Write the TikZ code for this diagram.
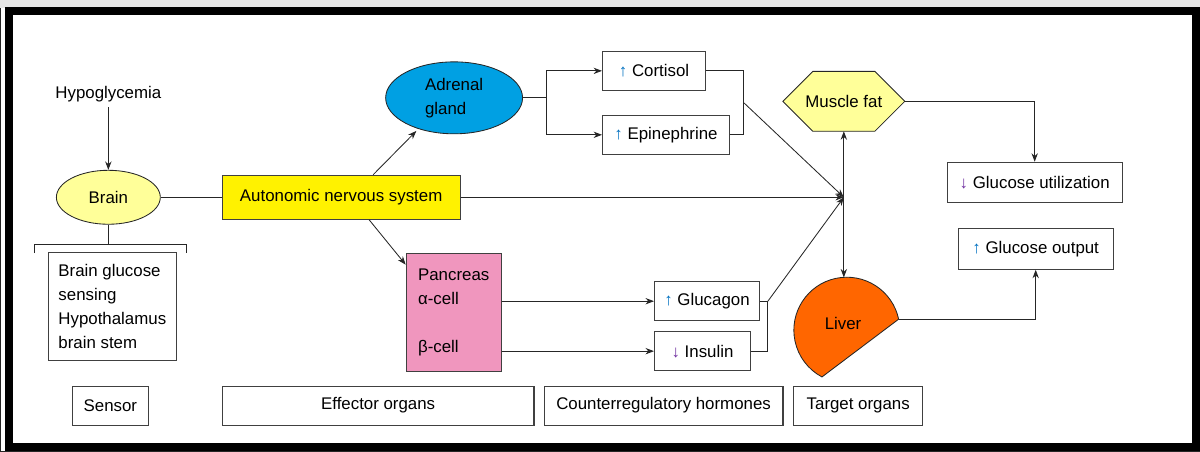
\documentclass[tikz,border=0pt]{standalone}
\usepackage{fontspec}
\setmainfont{Liberation Sans}
\usetikzlibrary{calc,arrows.meta,shapes.geometric}
\definecolor{paleyellow}{RGB}{255,255,153}
\definecolor{ansyellow}{RGB}{255,242,0}
\definecolor{adrenalblue}{RGB}{0,160,227}
\definecolor{pancpink}{RGB}{240,150,190}
\definecolor{liverorange}{RGB}{255,102,0}
\definecolor{upblue}{RGB}{0,112,192}
\definecolor{downpurple}{RGB}{112,48,160}
\newcommand{\hup}{\textcolor{upblue}{↑}}
\newcommand{\hdown}{\textcolor{downpurple}{↓}}

\begin{document}
\begin{tikzpicture}[
    font=\fontsize{12}{17}\selectfont,
    >={Stealth[length=6pt,width=4.5pt]},
    every path/.style={line width=0.6pt, draw=black!85},
    box/.style={draw=black!75, line width=0.8pt, minimum height=0.975cm, inner sep=2pt},
  ]
    \useasboundingbox (0,0) rectangle (30,11.275);
    \fill[black!10] (0,11.1) rectangle (30,11.275);
    \draw[line width=0.2cm, black] (0.2125,0.1125) rectangle (29.9,11.0);

    \node (hypo) at (2.7,8.925) {Hypoglycemia};
    \node[ellipse, draw, fill=paleyellow, minimum width=2.6cm, minimum height=1.35cm] (brain) at (2.7,6.35) {Brain};
    \node[box, fill=ansyellow, minimum width=5.95cm, minimum height=1.1cm] (ans) at (8.525,6.35) {Autonomic nervous system};
    \node[box, align=left, minimum width=3.2cm, minimum height=2.7cm] (sensing) at (2.8,3.625) {Brain glucose\\sensing\\Hypothalamus\\brain stem};
    \node[ellipse, draw, fill=adrenalblue, minimum width=3.425cm, minimum height=1.8cm, align=left] (adrenal) at (11.35,8.8375) {Adrenal\\gland};
    \node[box, fill=pancpink, minimum width=2.375cm, minimum height=2.95cm, align=left] (pancreas) at (11.34,3.475) {Pancreas\\α-cell\\[17pt]β-cell};

    \node[box, anchor=west, minimum width=2.575cm] (cortisol) at (15.05,9.5125) {\hup\ Cortisol};
    \node[box, anchor=west, minimum width=3.175cm] (epi) at (15.05,7.9125) {\hup\ Epinephrine};
    \node[box, anchor=west, minimum width=2.625cm] (glucagon) at (16.35,3.75) {\hup\ Glucagon};
    \node[box, anchor=west, minimum width=2.4cm] (insulin) at (16.35,2.5) {\hdown\ Insulin};

    \coordinate (mf) at (21.1,8.75);
    \filldraw[fill=paleyellow] ($(mf)+(-1.525,0)$) -- ++(0.75,0.75) -- ++(1.55,0) -- ++(0.75,-0.75) -- ++(-0.75,-0.75) -- ++(-1.55,0) -- cycle;
    \coordinate (mf-e) at ($(mf)+(1.525,0)$);
    \coordinate (mf-s) at ($(mf)+(0,-0.75)$);
    \node (muscle) at (mf) {Muscle fat};

    \coordinate (lc) at (21.175,3.025);
    \filldraw[fill=liverorange] ($(lc)+(12:1.325)$) coordinate (liver tip) arc[start angle=12, end angle=242, radius=1.325] -- cycle;
    \coordinate (liver top) at (21.1,4.345);
    \node (liver) at (21.08,3.19) {Liver};

    \node[box, minimum width=4.375cm, minimum height=1cm] (gu) at (25.875,6.725) {\hdown\ Glucose utilization};
    \node[box, minimum width=3.875cm, minimum height=1.025cm] (go) at (25.9,5.0625) {\hup\ Glucose output};

    \node[box, minimum width=1.9cm] (sensor) at (2.75,1.1375) {Sensor};
    \node[box, minimum width=7.8cm] (effector) at (9.45,1.1375) {Effector organs};
    \node[box, minimum width=5.975cm] (counter) at (16.59,1.1375) {Counterregulatory hormones};
    \node[box, minimum width=3.225cm] (target) at (21.46,1.1375) {Target organs};

    \coordinate (hub) at (21.1,6.35);
    \coordinate (brl) at (0.85,4.95);
    \coordinate (brr) at (4.65,4.95);
    \coordinate (ab) at (13.65,8.8375);
    \coordinate (ce) at (18.6,8.7125);
    \coordinate (gi) at (19.2,3.75);

    \draw[->] (hypo) -- (brain);
    \draw (brain) -- (ans);
    \draw (brain.south) -- ++(0,-0.5) coordinate (brn);
    \draw (brl) |- (brn) -| (brr);
    \draw[->, shorten >=2pt] ($(ans.north)+(0.8,0)$) -- (adrenal.221);
    \draw[->] ($(ans.south)+(0.7,0)$) -- ($(pancreas.north west)+(0,-0.3)$);
    \draw[->] (ans) -- (hub);
    \draw[->] (adrenal) -- (ab) |- (cortisol);
    \draw[->] (ab) |- (epi);
    \draw (cortisol) -| (ce |- epi) -- (epi);
    \draw[->] (ce) -- (hub);
    \draw[->] (pancreas.east |- glucagon) -- (glucagon);
    \draw[->] (pancreas.east |- insulin) -- (insulin);
    \draw (glucagon) -- (gi) |- (insulin);
    \draw[->] (gi) -- (hub);
    \draw[<->] (mf-s) -- (liver top);
    \draw[->] (mf-e) -| (gu.north);
    \draw[->] (liver tip) -| (go.south);
  \end{tikzpicture}
\end{document}
